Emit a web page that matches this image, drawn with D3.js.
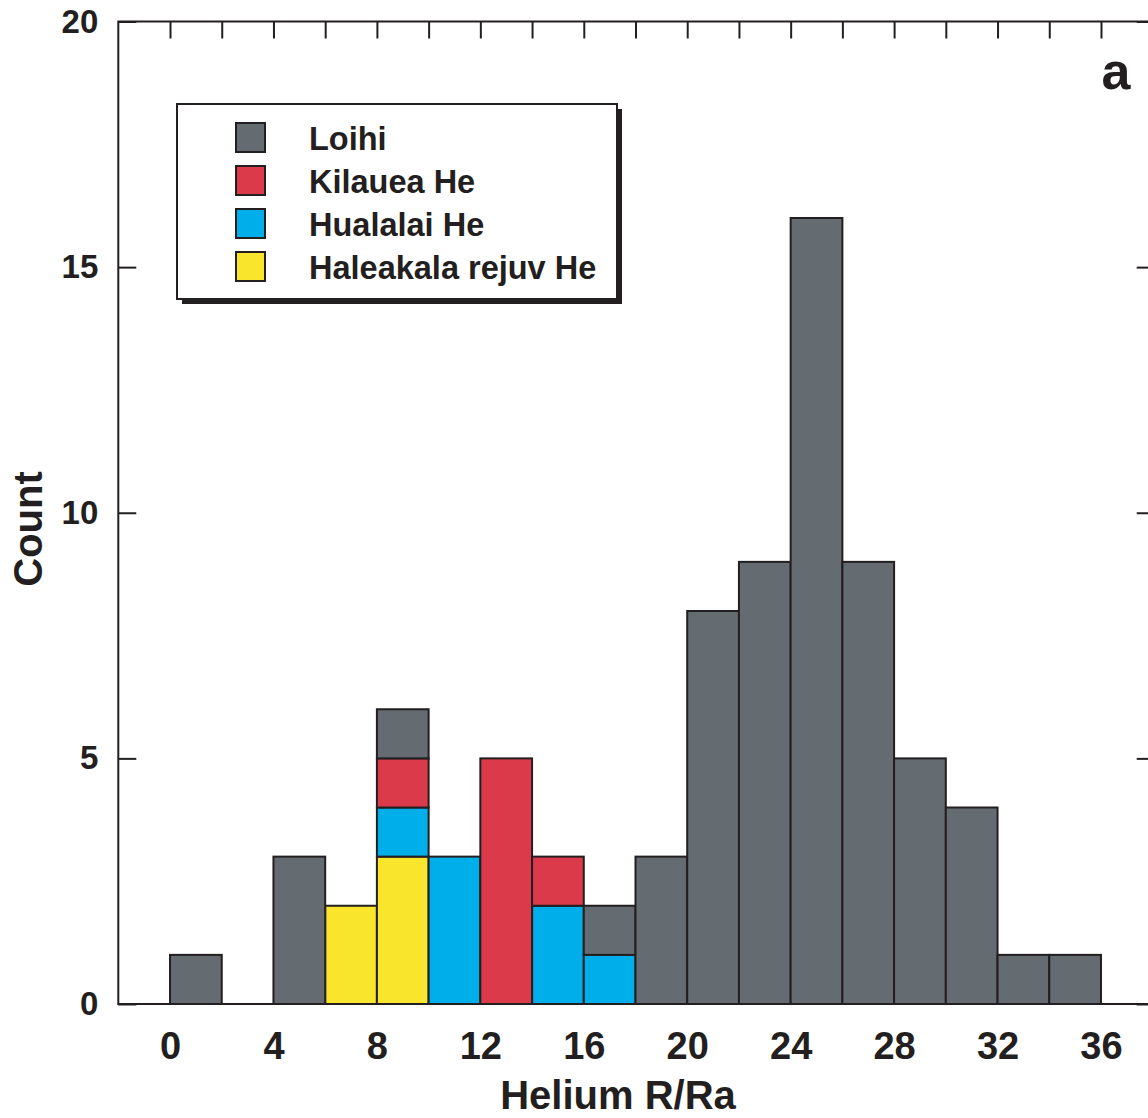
<!DOCTYPE html>
<html>
<head>
<meta charset="utf-8">
<script src="https://cdn.jsdelivr.net/npm/d3@7"></script>
<style>
  body { margin: 0; background: #fff; }
  text { font-family: "Liberation Sans", Arial, sans-serif; font-weight: bold; fill: #231f20; }
</style>
</head>
<body>
<div id="app"></div>
<script>
// bins of width 2, starting at these R/Ra values
let binStarts = [0, 2, 4, 6, 8, 10, 12, 14, 16, 18, 20, 22, 24, 26, 28, 30, 32, 34]
let binWidth = 2

// counts per bin, one array per group
let haleakala = [0, 0, 0, 2, 3, 0, 0, 0, 0, 0, 0, 0, 0, 0, 0, 0, 0, 0]
let hualalai  = [0, 0, 0, 0, 1, 3, 0, 2, 1, 0, 0, 0, 0, 0, 0, 0, 0, 0]
let kilauea   = [0, 0, 0, 0, 1, 0, 5, 1, 0, 0, 0, 0, 0, 0, 0, 0, 0, 0]
let loihi     = [1, 0, 3, 0, 1, 0, 0, 0, 1, 3, 8, 9, 16, 9, 5, 4, 1, 1]

// stacking order bottom -> top
let seriesKeys = ["haleakala", "hualalai", "kilauea", "loihi"]
let seriesColors = { loihi: "#646b71", kilauea: "#da3a4a", hualalai: "#00aeea", haleakala: "#f9e52b" }

// legend order (top -> bottom)
let legendKeys = ["loihi", "kilauea", "hualalai", "haleakala"]
let legendLabels = ["Loihi", "Kilauea He", "Hualalai He", "Haleakala rejuv He"]

let xTicks = [0, 4, 8, 12, 16, 20, 24, 28, 32, 36]
let xMinorTicks = d3.range(0, 37, 2)
let yTicks = [0, 5, 10, 15, 20]

let width = 1148, height = 1118
let ink = "#231f20"

let svg = d3.select("#app").append("svg")
    .attr("width", width)
    .attr("height", height)

let x = d3.scaleLinear().domain([-2, 38]).range([118.3, 1152.7])
let y = d3.scaleLinear().domain([0, 20]).range([1004, 21.5])

let table = binStarts.map((b, i) => ({
    x0: b,
    haleakala: haleakala[i],
    hualalai: hualalai[i],
    kilauea: kilauea[i],
    loihi: loihi[i]
}))

let stacked = d3.stack().keys(seriesKeys)(table)

// bars
let layers = svg.append("g").selectAll("g")
    .data(stacked)
    .enter().append("g")
    .attr("fill", d => seriesColors[d.key])

layers.selectAll("rect")
    .data(d => d.filter(s => s[1] > s[0]))
    .enter().append("rect")
    .attr("x", d => x(d.data.x0))
    .attr("width", d => x(d.data.x0 + binWidth) - x(d.data.x0))
    .attr("y", d => y(d[1]))
    .attr("height", d => y(d[0]) - y(d[1]))
    .attr("stroke", ink)
    .attr("stroke-width", 2)

// frame
svg.append("rect")
    .attr("x", x(-2)).attr("y", y(20))
    .attr("width", x(38) - x(-2)).attr("height", y(0) - y(20))
    .attr("fill", "none")
    .attr("stroke", ink)
    .attr("stroke-width", 2)

// left axis
let yAxis = svg.append("g")
    .attr("transform", `translate(${x(-2)},0)`)
    .call(d3.axisLeft(y).tickValues(yTicks).tickSize(-18).tickPadding(20))
yAxis.select(".domain").remove()
yAxis.selectAll("line").attr("stroke", ink).attr("stroke-width", 2)
yAxis.selectAll("text").attr("font-size", 33).attr("fill", ink)
    .attr("font-family", "Liberation Sans, Arial, sans-serif").attr("font-weight", "bold")

// right axis ticks
let yAxisR = svg.append("g")
    .attr("transform", `translate(${x(38)},0)`)
    .call(d3.axisRight(y).tickValues(yTicks).tickSize(-16).tickFormat(""))
yAxisR.select(".domain").remove()
yAxisR.selectAll("line").attr("stroke", ink).attr("stroke-width", 2)

// top axis ticks
let xAxisT = svg.append("g")
    .attr("transform", `translate(0,${y(20)})`)
    .call(d3.axisTop(x).tickValues(xMinorTicks).tickSize(-17).tickFormat(""))
xAxisT.select(".domain").remove()
xAxisT.selectAll("line").attr("stroke", ink).attr("stroke-width", 2)

// bottom axis labels
let xAxis = svg.append("g")
    .attr("transform", `translate(0,${y(0)})`)
    .call(d3.axisBottom(x).tickValues(xTicks).tickSize(0).tickPadding(28))
xAxis.select(".domain").remove()
xAxis.selectAll("text").attr("font-size", 38).attr("fill", ink)
    .attr("font-family", "Liberation Sans, Arial, sans-serif").attr("font-weight", "bold")

// axis titles
svg.append("text")
    .attr("x", 618).attr("y", 1109)
    .attr("text-anchor", "middle")
    .attr("font-size", 40)
    .text("Helium R/Ra")

svg.append("text")
    .attr("transform", "translate(42,529) rotate(-90)")
    .attr("text-anchor", "middle")
    .attr("font-size", 40)
    .text("Count")

// panel letter
svg.append("text")
    .attr("x", 1116).attr("y", 89)
    .attr("text-anchor", "middle")
    .attr("font-size", 52)
    .text("a")

// legend
let legend = svg.append("g")
legend.append("rect")
    .attr("x", 182).attr("y", 109).attr("width", 440).attr("height", 195)
    .attr("fill", ink)
legend.append("rect")
    .attr("x", 177).attr("y", 104).attr("width", 440).attr("height", 195)
    .attr("fill", "#fff").attr("stroke", ink).attr("stroke-width", 2)

let rows = legend.selectAll("g.row")
    .data(legendKeys)
    .enter().append("g")
    .attr("class", "row")
    .attr("transform", (d, i) => `translate(0,${123 + i * 43})`)

rows.append("rect")
    .attr("x", 236).attr("y", 0).attr("width", 29).attr("height", 29)
    .attr("fill", d => seriesColors[d])
    .attr("stroke", ink).attr("stroke-width", 2)

rows.append("text")
    .attr("x", 309).attr("y", 27)
    .attr("font-size", 32.5)
    .text((d, i) => legendLabels[i])
</script>
</body>
</html>
